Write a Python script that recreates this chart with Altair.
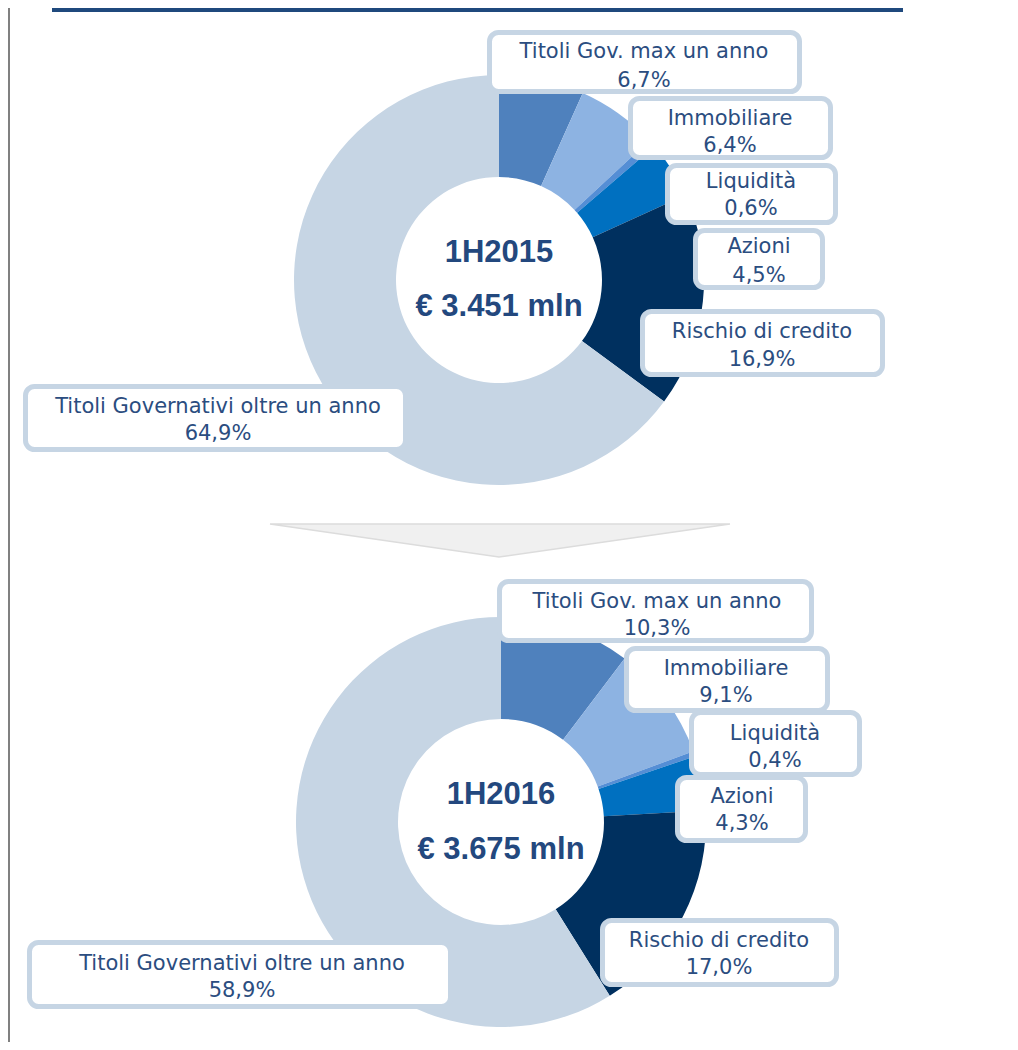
import altair as alt
import pandas as pd

# ---------------- data ----------------
categories = ["Titoli Gov. max un anno", "Immobiliare", "Liquidità", "Azioni",
              "Rischio di credito", "Titoli Governativi oltre un anno"]
values_2015 = [6.7, 6.4, 0.6, 4.5, 16.9, 64.9]
values_2016 = [10.3, 9.1, 0.4, 4.3, 17.0, 58.9]
periods = ["1H2015", "1H2016"]
totals = ["€ 3.451 mln", "€ 3.675 mln"]

# ---------------- styles / layout ----------------
slice_colors = ["#4F81BD", "#8DB3E2", "#558ED5", "#0070C0", "#00305F", "#C6D5E4"]
text_color = "#2B4D80"
title_color = "#23487E"
box_stroke = "#C6D5E4"

W, H = 1002, 1034
M = 8  # page margin: layout values below are in page pixels
xs = alt.Scale(domain=[M, M + W], range=[0, W])
ys = alt.Scale(domain=[M, M + H], range=[0, H])

donut_centers = [(499, 280), (501, 822)]
center_text_x = [499, 501]
center_base1 = [262, 804]
center_base2 = [316, 859]

# label boxes: x1, x2, y1, y2, text centre x, baseline line 1, baseline line 2
boxes = [
    [(487, 802, 30, 94, 644, 58, 87),
     (628, 833, 96, 160, 730, 125, 152),
     (665, 838, 163, 225, 751, 188, 215),
     (693, 825, 228, 290, 759, 253, 282),
     (640, 885, 309, 377, 762, 338, 366),
     (23, 408, 384, 452, 218, 413, 440)],
    [(497, 814, 579, 643, 657, 608, 635),
     (624, 830, 646, 713, 726, 675, 702),
     (689, 862, 710, 777, 775, 740, 767),
     (675, 808, 775, 843, 742, 803, 830),
     (600, 839, 918, 987, 719, 947, 974),
     (27, 453, 940, 1009, 242, 970, 997)],
]

def fmt(v):
    return f"{v:.1f}".replace(".", ",") + "%"

# ---------------- build tables ----------------
arc_rows, box_rows = [], []
for p, (period, vals) in enumerate(zip(periods, [values_2015, values_2016])):
    cx, cy = donut_centers[p]
    for i, (c, v) in enumerate(zip(categories, vals)):
        arc_rows.append(dict(period=period, cat=c, val=v, idx=i, cx=cx, cy=cy))
        x1, x2, y1, y2, tx, b1, b2 = boxes[p][i]
        box_rows.append(dict(period=period, cat=c, pct=fmt(v),
                             x1=x1 + 2.5, x2=x2 - 2.5, y1=y1 + 2.5, y2=y2 - 2.5,
                             tx=tx, b1=b1, b2=b2))
arc_df = pd.DataFrame(arc_rows)
box_df = pd.DataFrame(box_rows)
center_df = pd.DataFrame(dict(period=periods, total=totals, x=center_text_x,
                              b1=center_base1, b2=center_base2))

arrow_df = pd.DataFrame(dict(x=[270, 499, 730], y=[524, 524, 524], y2=[524, 557, 524]))

color = alt.Color("cat:N", scale=alt.Scale(domain=categories, range=slice_colors), legend=None)

def donut(period):
    return alt.Chart(arc_df[arc_df.period == period]).mark_arc(
        outerRadius=205, innerRadius=103
    ).encode(
        theta=alt.Theta("val:Q", stack=True),
        order=alt.Order("idx:Q"),
        color=color,
        x=alt.X("cx:Q", scale=xs, axis=None),
        y=alt.Y("cy:Q", scale=ys, axis=None),
    )

rects = alt.Chart(box_df).mark_rect(
    cornerRadius=9, fill="white", stroke=box_stroke, strokeWidth=5
).encode(
    x=alt.X("x1:Q", scale=xs, axis=None), x2="x2:Q",
    y=alt.Y("y1:Q", scale=ys, axis=None), y2="y2:Q",
)

name_text = alt.Chart(box_df).mark_text(
    font="DejaVu Sans", fontSize=21, color=text_color, align="center", baseline="alphabetic"
).encode(
    x=alt.X("tx:Q", scale=xs, axis=None), y=alt.Y("b1:Q", scale=ys, axis=None), text="cat:N"
)
pct_text = alt.Chart(box_df).mark_text(
    font="DejaVu Sans", fontSize=21, color=text_color, align="center", baseline="alphabetic"
).encode(
    x=alt.X("tx:Q", scale=xs, axis=None), y=alt.Y("b2:Q", scale=ys, axis=None), text="pct:N"
)

period_text = alt.Chart(center_df).mark_text(
    font="Liberation Sans", fontSize=31, fontWeight="bold", color=title_color,
    align="center", baseline="alphabetic"
).encode(
    x=alt.X("x:Q", scale=xs, axis=None), y=alt.Y("b1:Q", scale=ys, axis=None), text="period:N"
)
total_text = alt.Chart(center_df).mark_text(
    font="Liberation Sans", fontSize=31, fontWeight="bold", color=title_color,
    align="center", baseline="alphabetic"
).encode(
    x=alt.X("x:Q", scale=xs, axis=None), y=alt.Y("b2:Q", scale=ys, axis=None), text="total:N"
)

arrow = alt.Chart(arrow_df).mark_area(
    fill="#F0F0F0", stroke="#DCDCDC", strokeWidth=1.5, line=False
).encode(
    x=alt.X("x:Q", scale=xs, axis=None),
    y=alt.Y("y:Q", scale=ys, axis=None), y2="y2:Q",
)

top_line = alt.Chart(pd.DataFrame({"a": [0]})).mark_rule(
    color="#1F497D", strokeWidth=4
).encode(x=alt.value(52 - M), x2=alt.value(903 - M), y=alt.value(2))

left_line = alt.Chart(pd.DataFrame({"a": [0]})).mark_rule(
    color="#808080", strokeWidth=2
).encode(x=alt.value(1), y=alt.value(0), y2=alt.value(H))

chart = alt.layer(
    top_line, left_line, arrow,
    donut(periods[0]), donut(periods[1]),
    rects, name_text, pct_text, period_text, total_text,
).properties(
    width=W, height=H, padding=0, autosize=alt.AutoSizeParams(type="none")
).configure_view(stroke=None)

chart.save("out.html", embed_options={"renderer": "svg", "actions": False})
